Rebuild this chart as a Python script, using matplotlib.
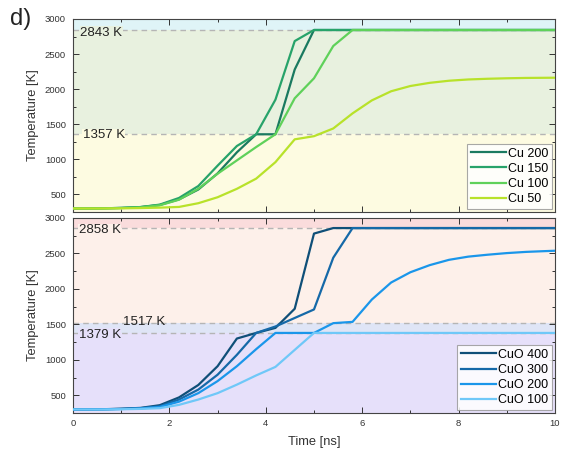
import matplotlib
matplotlib.use("Agg")
import matplotlib.pyplot as plt
from matplotlib.ticker import MultipleLocator

plt.rcParams["font.family"] = ["Liberation Sans", "DejaVu Sans"]

# time grid [ns]
time_ns = [0, 0.2, 0.6, 1.0, 1.4, 1.8, 2.2, 2.6, 3.0, 3.4, 3.8, 4.2, 4.6, 5.0,
           5.4, 5.8, 6.2, 6.6, 7.0, 7.4, 7.8, 8.2, 8.6, 9.0, 9.4, 9.8, 10.0]

# Cu (top panel)
cu_labels = ["Cu 200", "Cu 150", "Cu 100", "Cu 50"]
cu_200 = [300, 300, 302, 308, 320, 350, 430, 570, 800, 1100, 1357, 1357, 2280, 2843,
          2843, 2843, 2843, 2843, 2843, 2843, 2843, 2843, 2843, 2843, 2843, 2843, 2843]
cu_150 = [300, 300, 302, 308, 320, 355, 450, 620, 910, 1190, 1357, 1850, 2685, 2843,
          2843, 2843, 2843, 2843, 2843, 2843, 2843, 2843, 2843, 2843, 2843, 2843, 2843]
cu_100 = [300, 300, 302, 306, 316, 345, 425, 580, 795, 985, 1175, 1357, 1870, 2155,
          2615, 2843, 2843, 2843, 2843, 2843, 2843, 2843, 2843, 2843, 2843, 2843, 2843]
cu_50 = [300, 300, 300, 302, 306, 312, 322, 375, 460, 580, 725, 960, 1285, 1330,
         1440, 1655, 1840, 1970, 2045, 2090, 2120, 2138, 2148, 2155, 2160, 2162, 2163]

# CuO (bottom panel)
cuo_labels = ["CuO 400", "CuO 300", "CuO 200", "CuO 100"]
cuo_400 = [300, 300, 303, 310, 322, 360, 470, 645, 910, 1300, 1379, 1450, 1720, 2780,
           2858, 2858, 2858, 2858, 2858, 2858, 2858, 2858, 2858, 2858, 2858, 2858, 2858]
cuo_300 = [300, 300, 302, 308, 318, 345, 440, 580, 790, 1070, 1379, 1470, 1590, 1710,
           2440, 2858, 2858, 2858, 2858, 2858, 2858, 2858, 2858, 2858, 2858, 2858, 2858]
cuo_200 = [300, 300, 302, 306, 314, 335, 410, 530, 700, 910, 1150, 1379, 1379, 1379,
           1517, 1535, 1850, 2090, 2235, 2335, 2410, 2455, 2482, 2505, 2522, 2533, 2538]
cuo_100 = [300, 300, 300, 303, 308, 318, 365, 440, 530, 650, 780, 900, 1140, 1379,
           1379, 1379, 1379, 1379, 1379, 1379, 1379, 1379, 1379, 1379, 1379, 1379, 1379]

# phase temperatures [K]
cu_levels = [1357, 2843]
cuo_levels = [1379, 1517, 2858]

CU_COLORS = ["#1a7a60", "#27a36a", "#5fd15a", "#b8e22a"]
CUO_COLORS = ["#0f4f78", "#1569a8", "#1a96ea", "#6fc8f8"]
CU_BANDS = ["#fdfbe1", "#e8f1df", "#dff4f7"]
CUO_BANDS = ["#e6e0fa", "#dfe5f6", "#fdf0ea", "#fadcdc"]

YMIN, YMAX = 250, 3000


def style_axis(ax, show_xlabels):
    ax.set_xlim(0, 10)
    ax.set_ylim(YMIN, YMAX)
    ax.xaxis.set_major_locator(MultipleLocator(2))
    ax.xaxis.set_minor_locator(MultipleLocator(1))
    ax.yaxis.set_major_locator(MultipleLocator(500))
    ax.yaxis.set_minor_locator(MultipleLocator(250))
    ax.set_yticks([500, 1000, 1500, 2000, 2500, 3000])
    ax.tick_params(which="both", direction="in", top=True, right=True,
                   labelsize=6.8, colors="#333333", width=0.7)
    ax.tick_params(which="major", length=4)
    ax.tick_params(which="minor", length=2.2)
    ax.tick_params(axis="y", pad=5)
    ax.tick_params(axis="x", pad=4)
    if not show_xlabels:
        ax.tick_params(labelbottom=False)
    for sp in ax.spines.values():
        sp.set_color("#444444")
        sp.set_linewidth(0.8)
    ax.set_ylabel("Temperature [K]", fontsize=9.3, color="#333333", labelpad=4)


def shade(ax, levels, colors):
    edges = [YMIN] + levels + [YMAX]
    for lo, hi, c in zip(edges[:-1], edges[1:], colors):
        ax.axhspan(lo, hi, color=c, lw=0, zorder=0)
    for lv in levels:
        ax.axhline(lv, color="#b5b5b5", ls=(0, (4, 3)), lw=1.0, zorder=1)


def level_text(ax, x, y, s, bg=None):
    box = dict(facecolor=bg, edgecolor="none", pad=0.3) if bg else None
    ax.text(x, y, s, fontsize=9.5, color="#222222", va="center", ha="left", zorder=2,
            bbox=box)


def main():
    fig = plt.figure(figsize=(5.61, 4.55), dpi=100)
    ax1 = fig.add_axes([0.1301, 0.5341, 0.8592, 0.4242])
    ax2 = fig.add_axes([0.1301, 0.0923, 0.8592, 0.4286])

    # top: Cu
    shade(ax1, cu_levels, CU_BANDS)
    for ys, lab, c in zip([cu_200, cu_150, cu_100, cu_50], cu_labels, CU_COLORS):
        ax1.plot(time_ns, ys, color=c, lw=1.6, label=lab, zorder=3)
    level_text(ax1, 0.15, 2805, "2843 K", CU_BANDS[1])
    level_text(ax1, 0.2, 1345, "1357 K", CU_BANDS[0])
    style_axis(ax1, False)
    leg = ax1.legend(loc="lower right", fontsize=9, handlelength=2.8, handletextpad=0.15,
                     labelspacing=0.25, borderpad=0.3, borderaxespad=0.25,
                     fancybox=False, framealpha=0.85, edgecolor="#999999")
    leg.get_frame().set_linewidth(0.8)

    # bottom: CuO
    shade(ax2, cuo_levels, CUO_BANDS)
    for ys, lab, c in zip([cuo_400, cuo_300, cuo_200, cuo_100], cuo_labels, CUO_COLORS):
        ax2.plot(time_ns, ys, color=c, lw=1.6, label=lab, zorder=3)
    level_text(ax2, 0.12, 2825, "2858 K", CUO_BANDS[2])
    level_text(ax2, 1.04, 1535, "1517 K")
    level_text(ax2, 0.12, 1355, "1379 K", CUO_BANDS[0])
    style_axis(ax2, True)
    ax2.set_xlabel("Time [ns]", fontsize=9.3, color="#333333", labelpad=6)
    leg = ax2.legend(loc="lower right", fontsize=9, handlelength=2.8, handletextpad=0.15,
                     labelspacing=0.25, borderpad=0.3, borderaxespad=0.25,
                     fancybox=False, framealpha=0.85, edgecolor="#999999")
    leg.get_frame().set_linewidth(0.8)

    fig.text(0.018, 0.958, "d)", fontsize=17, va="center", ha="left", color="#222222")

    fig.savefig("out.png", dpi=100)
    plt.close(fig)


if __name__ == "__main__":
    main()
